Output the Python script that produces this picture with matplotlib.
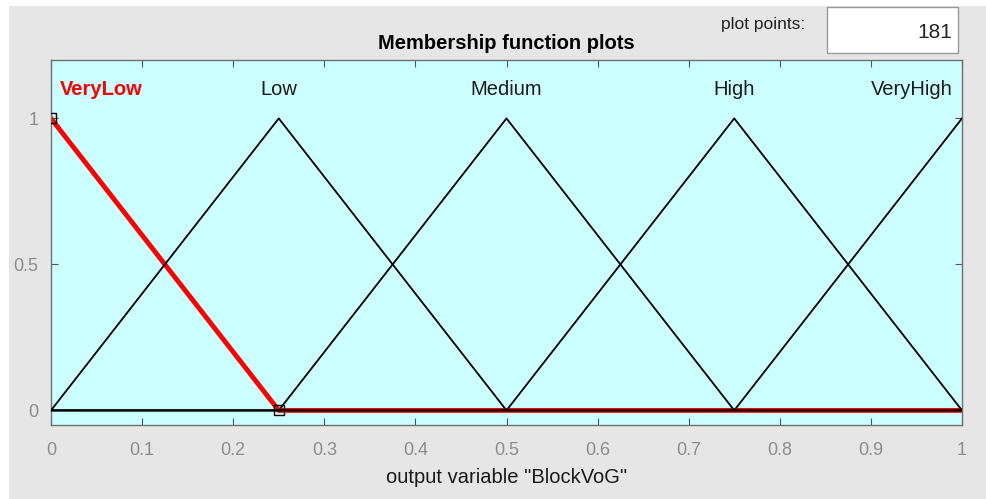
import numpy as np
import matplotlib.pyplot as plt
from matplotlib.patches import Rectangle

plt.rcParams['font.family'] = ['Liberation Sans', 'DejaVu Sans']

# Funciones de pertenencia (trimf) de la variable de salida
mf_names = ['VeryLow', 'Low', 'Medium', 'High', 'VeryHigh']
mf_params = [[-0.25, 0.0, 0.25],
             [0.0, 0.25, 0.5],
             [0.25, 0.5, 0.75],
             [0.5, 0.75, 1.0],
             [0.75, 1.0, 1.25]]
label_x = [0.01, 0.25, 0.5, 0.75, 0.99]
selected = 0
plot_points = 181
x_ticks = [0, 0.1, 0.2, 0.3, 0.4, 0.5, 0.6, 0.7, 0.8, 0.9, 1]
y_ticks = [0, 0.5, 1]

x = np.linspace(0, 1, plot_points)

def trimf(x, p):
    a, b, c = p
    left = (x - a) / (b - a)
    right = (c - x) / (c - b)
    return np.clip(np.minimum(left, right), 0, 1)

fig = plt.figure(figsize=(9.86, 4.99), dpi=100)
fig.patch.set_facecolor('white')
# fondo gris de la ventana
fig.patches.append(Rectangle((9/986, 0), 1, 1 - 6/499, transform=fig.transFigure,
                             facecolor='#e6e6e6', edgecolor='none', zorder=-10))

ax = fig.add_axes([51/986, 74/499, 911/986, 365/499])
ax.set_facecolor('#ccffff')

# la función seleccionada en rojo y gruesa
ax.plot(x, trimf(x, mf_params[selected]), color='red', lw=3.5, zorder=2)
for i, p in enumerate(mf_params):
    if i != selected:
        ax.plot(x, trimf(x, p), color='black', lw=1.3, zorder=3)
ax.plot([mf_params[selected][1], mf_params[selected][2]], [1, 0], 's',
        ms=7, mfc='none', mec='black', mew=1, zorder=4)

for i, name in enumerate(mf_names):
    ha = 'center'
    if label_x[i] < 0.05:
        ha = 'left'
    elif label_x[i] > 0.95:
        ha = 'right'
    ax.text(label_x[i], 1.1, name, ha=ha, va='center', fontsize=14.5,
            color='red' if i == selected else '#1a1a1a',
            fontweight='bold' if i == selected else 'normal')

ax.set_xlim(0, 1)
ax.set_ylim(-0.05, 1.2)
ax.set_xticks(x_ticks)
ax.set_xticklabels([f'{t:g}' for t in x_ticks])
ax.set_yticks(y_ticks)
ax.set_yticklabels([f'{t:g}' for t in y_ticks])
ax.tick_params(direction='in', top=True, right=True, length=5, width=0.8,
               color='#555555', labelcolor='#8c8c8c', labelsize=13)
ax.tick_params(axis='x', pad=12)
ax.tick_params(axis='y', pad=9)
for s in ax.spines.values():
    s.set_color('#707070')
    s.set_linewidth(1)

ax.set_xlabel('output variable "BlockVoG"', fontsize=14.5, color='#1a1a1a', labelpad=7)
ax.set_title('Membership function plots', fontsize=14.5, fontweight='bold', pad=8)

# caja de "plot points"
fig.text(805/986, 1 - 25/499, 'plot points:', ha='right', va='center', fontsize=12.5,
         color='#222222')
fig.patches.append(Rectangle((827/986, 1 - 53/499), 131/986, 46/499,
                             transform=fig.transFigure, facecolor='white',
                             edgecolor='#999999', lw=1))
fig.text(952/986, 1 - 32/499, str(plot_points), ha='right', va='center',
         fontsize=15, color='#222222')

plt.savefig('out.png', dpi=100)
